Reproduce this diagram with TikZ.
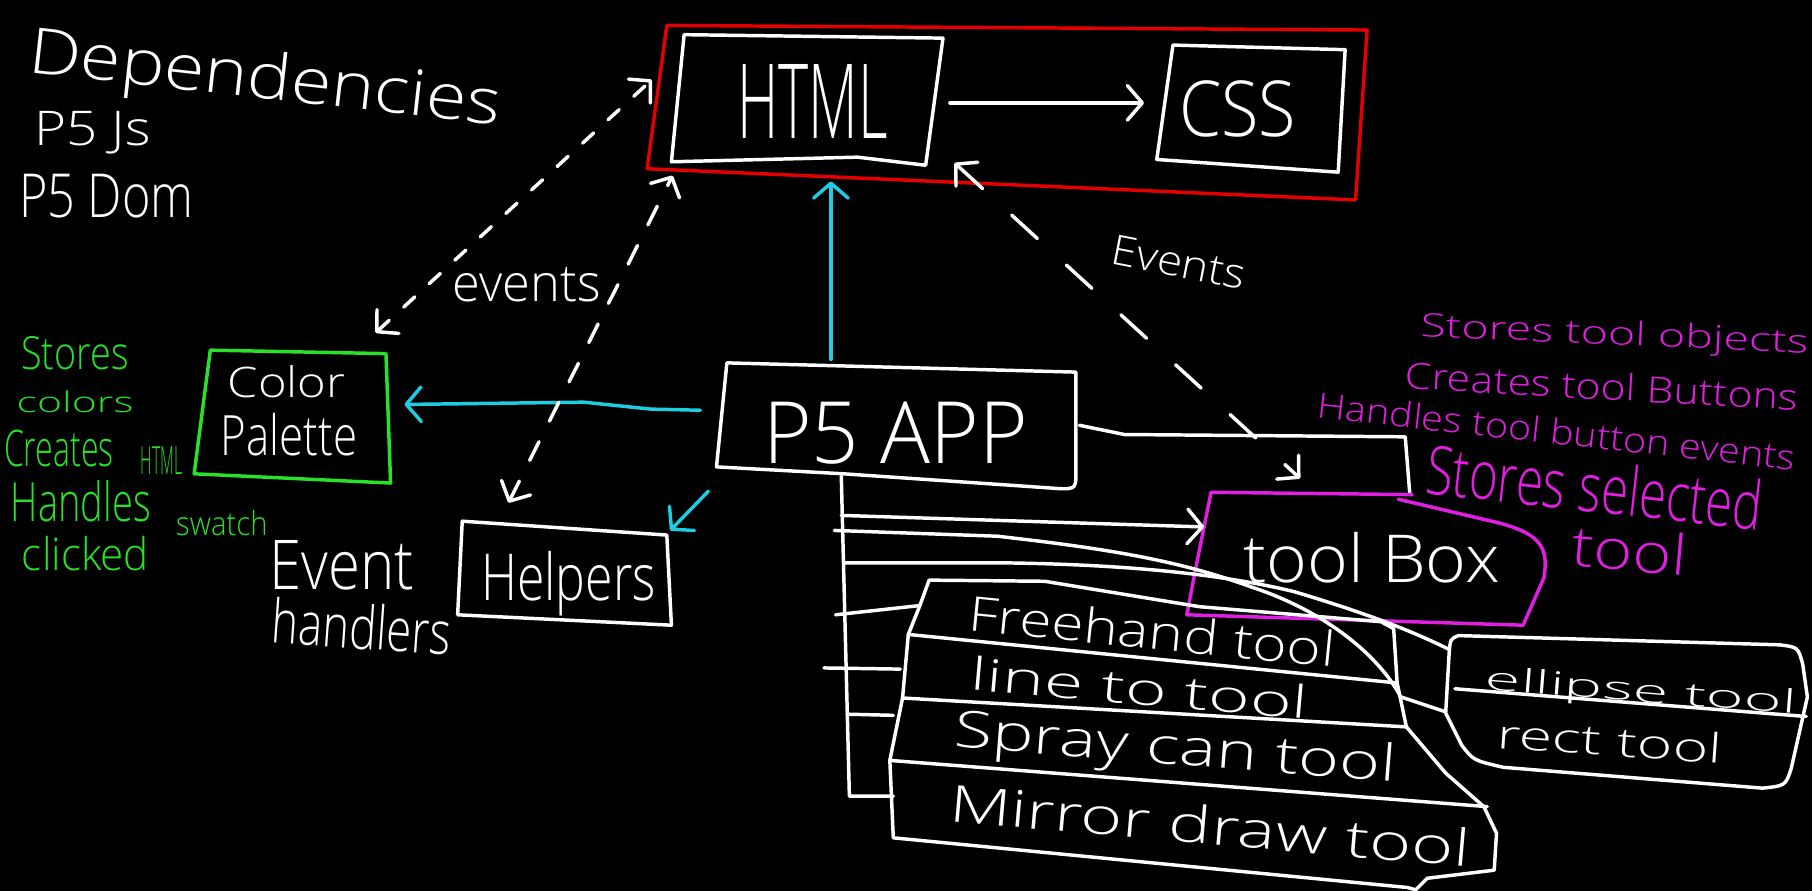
\documentclass[tikz,border=0pt]{standalone}
\usepackage{fontspec}
\setmainfont{Open Sans}[UprightFont=* Light]
\usepackage{graphicx}
\usetikzlibrary{arrows.meta}
\definecolor{hwred}{RGB}{228,0,0}
\definecolor{hwgreen}{RGB}{40,225,40}
\definecolor{hwcyan}{RGB}{30,205,225}
\definecolor{hwmag}{RGB}{225,30,225}
\newcommand{\hw}[3]{\resizebox*{#1pt}{#2pt}{#3}}
\begin{document}
\begin{tikzpicture}[x=1pt,y=-1pt,line join=round,line cap=round,
  pen/.style={line width=3pt},
  wl/.style={pen,draw=white},
  cl/.style={pen,draw=hwcyan},
  tip/.style={-{Straight Barb[length=13pt,width=30pt,round]}},
  tiptwo/.style={{Straight Barb[length=13pt,width=28pt,round]}-{Straight Barb[length=13pt,width=28pt,round]}},
  lbl/.style={inner sep=0pt,outer sep=0pt,text=white},
  glbl/.style={lbl,text=hwgreen},
  mlbl/.style={lbl,text=hwmag}]
\path[use as bounding box,fill=black] (0,0) rectangle (1568,771);

% left header
\node[lbl,rotate=-6.4] (dep) at (229,71) {\hw{410}{55}{Dependencies}};
\node[lbl] (p5js) at (80,115) {\hw{101}{37}{P5 Js}};
\node[lbl] (p5dom) at (92,170) {\hw{151}{38}{P5 Dom}};

% HTML / CSS group
\draw[pen,draw=hwred] (577,22) -- (1183,26) -- (1173,173) -- (560,146) -- cycle;
\draw[wl] (592,30) -- (816,33) -- (801,143) -- (742,136) -- (581,140) -- cycle;
\node[lbl] (html) at (703,88) {\hw{130}{64}{HTML}};
\draw[wl] (1015,39) -- (1164,43) -- (1158,149) -- (1001,138) -- cycle;
\node[lbl] (css) at (1071,94) {\hw{101}{49}{CSS}};
\coordinate (htmlR) at (822,89);
\coordinate (cssL) at (990,89);
\draw[wl,tip] (htmlR) -- (cssL);

% P5 APP
\draw[wl] (629,314) -- (931,322) -- (931,410) .. controls (931,424) .. (905,422) -- (730,410) -- (620,404) -- cycle;
\node[lbl] (app) at (775,375) {\hw{229}{54}{P5 APP}};

% cyan arrows
\coordinate (appT) at (719,311);
\coordinate (htmlB) at (719,157);
\draw[cl,tip] (appT) -- (htmlB);
\coordinate (appL) at (606,355);
\coordinate (cpR) at (350,350);
\draw[cl,tip] (appL) -- (563,354) -- (505,348) -- (cpR);
\coordinate (appBL) at (613,425);
\coordinate (helpTR) at (580,459);
\draw[cl,tip] (appBL) -- (helpTR);

% Color palette
\draw[pen,draw=hwgreen] (182,303) -- (334,306) -- (338,418) -- (168,410) -- cycle;
\node[lbl] (color) at (248,330) {\hw{102}{28}{Color}};
\node[lbl] (palette) at (250,376) {\hw{118}{37}{Palette}};
\node[glbl] (g1) at (65,306) {\hw{93}{29}{Stores}};
\node[glbl] (g2) at (65,348) {\hw{101}{19}{colors}};
\node[glbl] (g3) at (51,388) {\hw{95}{32}{Creates}};
\node[glbl] (g4) at (140,399) {\hw{36}{24}{HTML}};
\node[glbl] (g5) at (70,434) {\hw{121}{36}{Handles}};
\node[glbl] (g6) at (192,453) {\hw{79}{22}{swatch}};
\node[glbl] (g7) at (74,479) {\hw{110}{30}{clicked}};

% Helpers
\draw[wl] (400,451) -- (577,463) -- (581,541) -- (396,532) -- cycle;
\node[lbl] (helpers) at (492,505) {\hw{151}{56}{Helpers}};
\node[lbl] (event) at (296,489) {\hw{125}{43}{Event}};
\node[lbl,rotate=-4] (handlers) at (313,542) {\hw{155}{40}{handlers}};

% dashed event arrows
\coordinate (d1a) at (564,69);
\coordinate (d1b) at (325,288);
\draw[wl,tiptwo,dash pattern=on 13pt off 17pt] (d1b) -- (d1a);
\node[lbl] (ev1) at (456,246) {\hw{128}{30}{events}};
\coordinate (d2a) at (582,152);
\coordinate (d2b) at (440,435);
\draw[wl,tiptwo,dash pattern=on 18pt off 20pt] (d2b) -- (d2a);
\coordinate (d3a) at (826,141);
\coordinate (d3b) at (1125,414);
\draw[wl,tiptwo,dash pattern=on 30pt off 34pt] (d3a) -- (d3b);
\node[lbl,rotate=-11] (ev2) at (1020,227) {\hw{117}{26}{Events}};

% P5 APP to tool box
\draw[wl] (934,368) -- (973,376) -- (1216,378) -- (1220,428);
\draw[pen,draw=hwmag] (1048,426) -- (1222,428);
\draw[pen,draw=hwmag] (1210,432) -- (1295,452) .. controls (1335,462) and (1340,475) .. (1336,500) -- (1318,541) -- (1027,532) .. controls (1035,490) .. (1048,426);
\node[lbl] (toolbox) at (1187,483) {\hw{222}{44}{tool Box}};
\node[mlbl,rotate=-2.5] (m1) at (1397,291) {\hw{336}{28}{Stores tool objects}};
\node[mlbl,rotate=-3.2] (m2) at (1386,334) {\hw{340}{24}{Creates tool Buttons}};
\node[mlbl,rotate=-6.3] (m3) at (1347,373) {\hw{416}{23}{Handles tool button events}};
\node[mlbl,rotate=-6.3] (m4) at (1380,421) {\hw{292}{45}{Stores selected}};
\node[mlbl,rotate=-5] (m5) at (1410,476) {\hw{100}{37}{tool}};

% stem and branches
\draw[wl] (728,412) -- (735,689) -- (773,689);
\coordinate (stemA) at (728,446);
\coordinate (tbL) at (1042,456);
\draw[wl,tip] (stemA) -- (tbL);
\draw[wl] (722,459) -- (863,464) .. controls (960,475) and (1020,485) .. (1083,508) .. controls (1150,530) and (1195,570) .. (1212,603) -- (1251,616);
\draw[wl] (731,487) -- (863,487) .. controls (960,488) and (1050,495) .. (1120,512) .. controls (1180,530) and (1220,545) .. (1254,562);
\draw[wl] (723,532) -- (796,524);
\draw[wl] (713,578) -- (779,579);
\draw[wl] (733,618) -- (773,619);

% tool stack
\draw[wl] (1195,538) -- (1038,525) -- (904,503) -- (804,502) -- (796,524) -- (786,549) -- (781,604) -- (770,658) -- (773,725) -- (1218,768) -- (1225,770) -- (1235,760) -- (1293,753) -- (1295,721) -- (1284,698) -- (1251,669) -- (1217,629) -- (1209,591) -- (1206,544) -- cycle;
\draw[wl] (786,549) -- (1209,591);
\draw[wl] (781,604) -- (1217,629);
\draw[wl] (770,658) -- (1287,698);
\node[lbl,rotate=-5.7] (t1) at (997,546) {\hw{318}{32}{Freehand tool}};
\node[lbl,rotate=-5] (t2) at (986,595) {\hw{293}{30}{line to tool}};
\node[lbl,rotate=-4.5] (t3) at (1017,650) {\hw{383}{44}{Spray can tool}};
\node[lbl,rotate=-5] (t4) at (1047,714) {\hw{452}{34}{Mirror draw tool}};

% ellipse / rect
\draw[wl] (1262,550) -- (1540,558) .. controls (1556,560) .. (1560,575) -- (1564,603) -- (1550,665) .. controls (1545,680) .. (1525,682) -- (1301,664) .. controls (1275,658) .. (1265,645) -- (1251,617) -- (1254,565) .. controls (1255,553) .. (1262,550);
\draw[wl] (1259,596) -- (1563,620);
\node[lbl,rotate=-4.5] (t5) at (1420,600) {\hw{270}{28}{ellipse tool}};
\node[lbl,rotate=-4] (t6) at (1393,641) {\hw{195}{27}{rect tool}};
\end{tikzpicture}
\end{document}
